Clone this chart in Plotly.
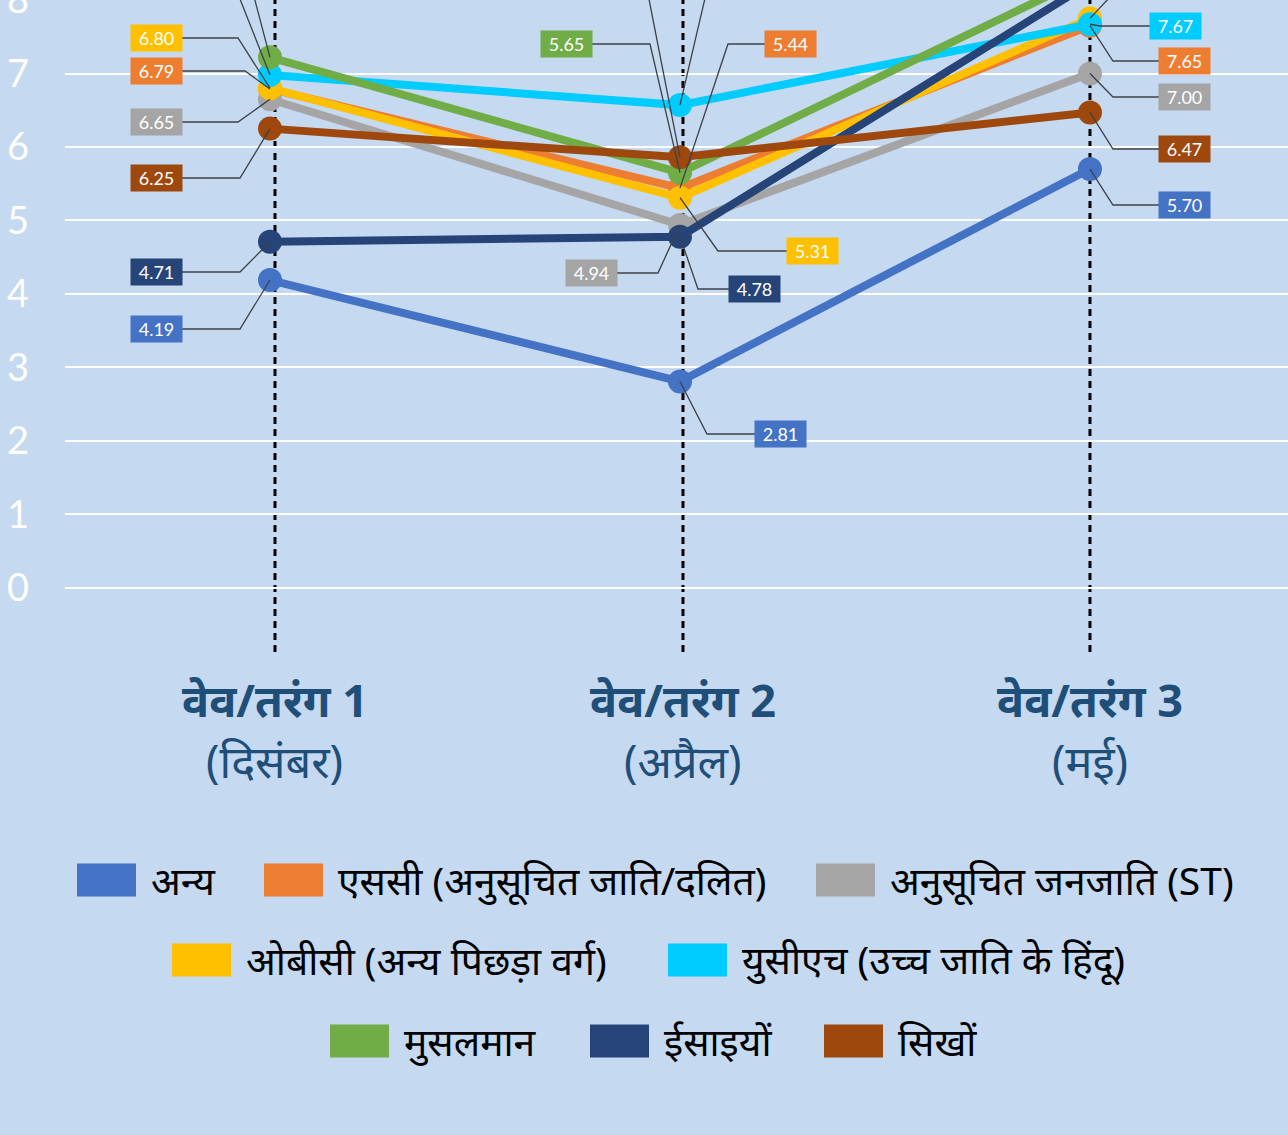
import plotly.graph_objects as go

# ---------------- data ----------------
waves = ["वेव/तरंग 1", "वेव/तरंग 2", "वेव/तरंग 3"]
months = ["(दिसंबर)", "(अप्रैल)", "(मई)"]

names = [
    "अन्य",
    "एससी (अनुसूचित जाति/दलित)",
    "अनुसूचित जनजाति (ST)",
    "ओबीसी (अन्य पिछड़ा वर्ग)",
    "युसीएच (उच्च जाति के हिंदू)",
    "मुसलमान",
    "ईसाइयों",
    "सिखों",
]
other = [4.19, 2.81, 5.70]
sc = [6.79, 5.44, 7.65]
st = [6.65, 4.94, 7.00]
obc = [6.80, 5.31, 7.75]
uch = [6.98, 6.57, 7.67]
muslim = [7.22, 5.65, 8.33]
christian = [4.71, 4.78, 8.23]
sikh = [6.25, 5.86, 6.47]
values = [other, sc, st, obc, uch, muslim, christian, sikh]

colors = ["#4472C4", "#ED7D31", "#A5A5A5", "#FFC000", "#00CCFF",
          "#70AD47", "#264478", "#9E480E"]

BG = "#C5D9F0"
W, H = 1288, 1135
L, PLOT_H = 65, 655
X0, X1 = -0.5, 2.483
Y0, Y1 = -0.912, 8.0
PX_X = (W - L) / (X1 - X0)      # px per x unit
PX_Y = PLOT_H / (Y1 - Y0)       # px per y unit

# label layout: per series, per wave -> (box centre dx px, box y px from plot top, elbow dx px)
label_layout = {
    0: [(-113, 329, -30), (101, 434, 27), (95, 205, 23)],
    1: [(-113, 71, -25), (111, 44, 48), (95, 61, 23)],
    2: [(-113, 122, -32), (-88, 273, -22), (95, 97, 23)],
    3: [(-113, 38, -32), (133, 251, 38), (95, -22, 38)],
    4: [(-113, -6, -32), (110, -40, 34), (86, 26, 10)],
    5: [(-113, -45, -27), (-113, 44, -30), (95, -60, 30)],
    6: [(-113, 272, -30), (75, 289, 18), (95, -90, 30)],
    7: [(-113, 178, -30), (-113, -6, -32), (95, 149, 23)],
}
BOX_W, BOX_H = 49, 24
GUIDE_SHIFT = [5, 3, 0]  # dotted guides sit a few px right of the markers


def py_to_val(py):
    return Y1 - py / PX_Y


fig = go.Figure()

# series lines
for name, vals, col in zip(names, values, colors):
    fig.add_trace(go.Scatter(
        x=[0, 1, 2], y=vals, mode="lines+markers", name=name,
        line=dict(color=col, width=8),
        marker=dict(color=col, size=24),
        showlegend=False, hoverinfo="skip",
    ))

# leader lines + value labels
annotations = []
for si, (vals, col) in enumerate(zip(values, colors)):
    for wi in range(3):
        dx, by, ex = label_layout[si][wi]
        v = vals[wi]
        bx = wi + dx / PX_X
        bval = py_to_val(by)
        half = BOX_W / 2 / PX_X
        edge = bx + half if dx < 0 else bx - half
        elbow = wi + ex / PX_X
        fig.add_trace(go.Scatter(
            x=[edge, elbow, wi], y=[bval, bval, v], mode="lines",
            line=dict(color="#3C4148", width=1.3),
            showlegend=False, hoverinfo="skip",
        ))
        annotations.append(dict(
            x=bx, y=bval, xref="x", yref="y", text=f"{v:.2f}",
            showarrow=False, bgcolor=col, width=BOX_W, height=BOX_H,
            font=dict(family="Lato, Open Sans, sans-serif", size=18, color="white"),
            xanchor="center", yanchor="middle",
        ))

# dotted vertical guides
shapes = []
for wi in range(3):
    gx = wi + GUIDE_SHIFT[wi] / PX_X
    shapes.append(dict(
        type="line", xref="x", yref="y", x0=gx, x1=gx, y0=-0.87, y1=Y1 + 0.5,
        line=dict(color="black", width=3, dash="7px,5px"), layer="below",
    ))

# category labels
for wi in range(3):
    cx = wi + GUIDE_SHIFT[wi] / PX_X
    annotations.append(dict(
        x=cx, y=(PLOT_H - 699) / PLOT_H, xref="x", yref="paper",
        text=f"<b>{waves[wi]}</b>", showarrow=False,
        font=dict(family="Noto Sans, sans-serif", size=45, color="#1F4E79"),
        xanchor="center", yanchor="middle",
    ))
    annotations.append(dict(
        x=cx, y=(PLOT_H - 760) / PLOT_H, xref="x", yref="paper",
        text=months[wi], showarrow=False,
        font=dict(family="Noto Sans, sans-serif", size=45, color="#1F4E79"),
        xanchor="center", yanchor="middle",
    ))

# manual legend (three centred rows)
legend_pos = [  # (swatch x0 px, row centre y px)
    (77, 880), (264, 880), (816, 880),
    (172, 960), (668, 960),
    (330, 1041), (590, 1041), (824, 1041),
]
for (sx, sy), name, col in zip(legend_pos, names, colors):
    x0p = (sx - L) / (W - L)
    x1p = (sx + 59 - L) / (W - L)
    shapes.append(dict(
        type="rect", xref="paper", yref="paper",
        x0=x0p, x1=x1p, y0=(PLOT_H - sy - 16.5) / PLOT_H, y1=(PLOT_H - sy + 16.5) / PLOT_H,
        fillcolor=col, line=dict(width=0),
    ))
    annotations.append(dict(
        x=(sx + 72 - L) / (W - L), y=(PLOT_H - sy + 1) / PLOT_H, xref="paper", yref="paper",
        text=name, showarrow=False, xanchor="left", yanchor="middle",
        font=dict(family="Noto Sans, sans-serif", size=39, color="black"),
    ))

fig.update_layout(
    width=W, height=H,
    margin=dict(l=L, r=0, t=0, b=H - PLOT_H, autoexpand=False),
    paper_bgcolor=BG, plot_bgcolor=BG,
    shapes=shapes, annotations=annotations,
    showlegend=False,
    xaxis=dict(range=[X0, X1], showgrid=False, zeroline=False, automargin=False,
               showticklabels=False, showline=False, fixedrange=True),
    yaxis=dict(range=[Y0, Y1], tickvals=list(range(0, 9)),
               showgrid=True, gridcolor="white", gridwidth=2,
               zeroline=False, showline=False, ticks="", automargin=False,
               ticklabelstandoff=35, ticklabeloverflow="allow",
               tickfont=dict(family="Lato, sans-serif", size=38, color="white"),
               fixedrange=True),
)

fig.write_html("out.html")
